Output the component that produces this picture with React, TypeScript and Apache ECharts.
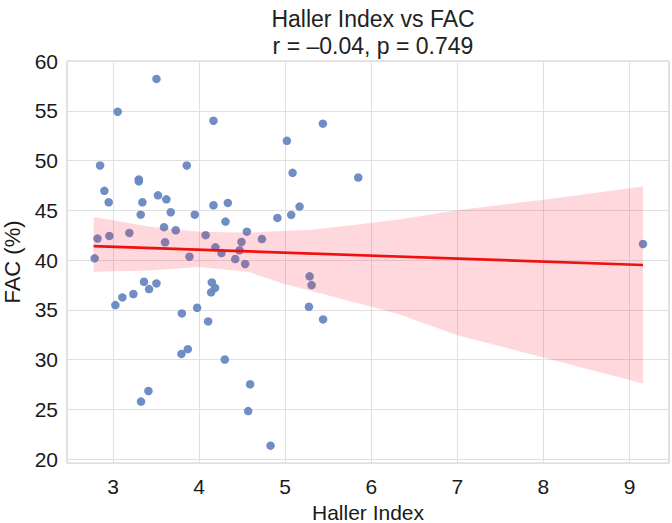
import React, { useEffect, useRef } from "react";
import * as echarts from "echarts";

// Haller index vs fractional area change (%), one point per patient
const hallerIndex = [
  3.505, 3.055, 4.167, 2.85, 3.857, 3.3, 3.3, 2.9, 2.95, 3.523, 3.62, 3.342, 4.167,
  3.322, 3.671, 3.95, 3.593, 3.729, 3.19, 2.958, 2.82, 3.605, 4.076, 2.787, 3.888,
  4.19, 3.028, 3.109, 3.237, 3.36, 3.419, 3.505, 3.8, 3.977, 4.105, 3.795, 3.869,
  3.326, 3.412, 4.148, 4.186, 4.14, 4.299, 4.593, 4.57, 4.83, 5.284, 5.307, 5.276,
  5.44, 4.26, 4.42, 4.535, 5.438, 5.02, 5.086, 5.849, 4.334, 5.167, 4.307, 4.91,
  5.07, 4.555, 4.73, 4.493, 4.47, 9.156,
];
const facPercent = [
  58.2, 54.9, 54.0, 49.5, 49.5, 48.1, 47.9, 46.95, 45.8, 46.5, 46.1, 45.8, 45.5,
  44.56, 44.8, 44.56, 43.3, 42.99, 42.72, 42.42, 42.15, 41.78, 42.5, 40.17, 40.33,
  41.27, 35.47, 36.24, 36.58, 37.81, 37.08, 37.65, 34.63, 35.2, 33.83, 30.56, 31.04,
  25.77, 26.84, 37.75, 37.2, 36.75, 30.0, 27.51, 24.82, 21.34, 38.36, 37.48, 35.3,
  34.03, 40.7, 40.1, 39.6, 53.7, 51.98, 48.76, 48.29, 45.74, 45.37, 43.86, 44.23,
  44.53, 42.85, 42.11, 41.81, 40.98, 41.61,
];

// Fitted regression line end points
const fitX = [2.775, 9.156];
const fitY = [41.4, 39.5];

// Confidence band edges
const bandUpperX = [2.775, 3.0, 3.43, 4.0, 4.6, 5.0, 5.3, 5.77, 6.34, 7.0, 8.0, 9.156];
const bandUpperY = [44.33, 44.0, 43.35, 42.85, 42.75, 42.95, 43.05, 43.5, 44.1, 45.0, 46.05, 47.4];
const bandLowerX = [2.775, 3.43, 4.0, 4.58, 4.97, 5.56, 6.0, 6.34, 7.0, 8.0, 9.156];
const bandLowerY = [38.82, 38.95, 39.3, 38.8, 37.65, 36.3, 35.3, 34.5, 32.45, 30.2, 27.6];

const titleText = "Haller Index vs FAC\nr = \u20130.04, p = 0.749";
const xName = "Haller Index";
const yName = "FAC (%)";

const FONT = "'Liberation Sans', Arial, Helvetica, sans-serif";

export default function App() {
  const ref = useRef<HTMLDivElement>(null);

  useEffect(() => {
    if (!ref.current) return;
    const chart = echarts.init(ref.current, undefined, { renderer: "svg" });

    const points = hallerIndex.map((x, i) => [x, facPercent[i]]);
    const fitLine = fitX.map((x, i) => [x, fitY[i]]);

    const option: any = {
      animation: false,
      backgroundColor: "#ffffff",
      textStyle: { fontFamily: FONT },
      title: {
        text: titleText,
        left: 368,
        top: 0,
        textAlign: "center",
        textStyle: {
          fontFamily: FONT,
          fontSize: 23,
          fontWeight: "normal",
          color: "#222222",
          lineHeight: 27,
        },
      },
      grid: {
        left: 67,
        right: 3,
        top: 61,
        bottom: 60,
        outerBoundsMode: "none",
        containLabel: false,
        show: true,
        borderColor: "#cfcfcf",
        borderWidth: 1.2,
        backgroundColor: "transparent",
      },
      xAxis: {
        type: "value",
        min: 2.466,
        max: 9.458,
        splitNumber: 7,
        name: xName,
        nameLocation: "middle",
        nameGap: 31,
        nameTextStyle: {
          fontFamily: FONT,
          fontSize: 21,
          lineHeight: 21,
          color: "#1a1a1a",
        },
        axisLine: { show: false },
        axisTick: { show: false },
        axisLabel: {
          showMinLabel: false,
          showMaxLabel: false,
          margin: 13,
          fontFamily: FONT,
          fontSize: 21,
          color: "#1a1a1a",
        },
        splitLine: { show: true, lineStyle: { color: "#e0e0e0", width: 1 } },
      },
      yAxis: {
        type: "value",
        min: 19.6,
        max: 60,
        splitNumber: 8,
        name: yName,
        nameLocation: "middle",
        nameGap: 40,
        nameRotate: 90,
        nameTextStyle: { fontFamily: FONT, fontSize: 22, color: "#1a1a1a" },
        axisLine: { show: false },
        axisTick: { show: false },
        axisLabel: {
          showMinLabel: false,
          margin: 9,
          fontFamily: FONT,
          fontSize: 21,
          color: "#1a1a1a",
        },
        splitLine: { show: true, lineStyle: { color: "#e0e0e0", width: 1 } },
      },
      series: [
        {
          type: "scatter",
          data: points,
          symbolSize: 8.5,
          itemStyle: { color: "#6688c2", opacity: 0.95 },
          z: 2,
        },
        {
          type: "custom",
          data: [[bandUpperX[0], bandUpperY[0]]],
          z: 3,
          silent: true,
          renderItem: (_params: any, api: any) => {
            const pts: number[][] = [];
            for (let i = 0; i < bandUpperX.length; i++) {
              pts.push(api.coord([bandUpperX[i], bandUpperY[i]]));
            }
            for (let i = bandLowerX.length - 1; i >= 0; i--) {
              pts.push(api.coord([bandLowerX[i], bandLowerY[i]]));
            }
            return {
              type: "polygon",
              shape: { points: pts },
              style: { fill: "rgba(248, 40, 60, 0.18)", stroke: "none" },
            };
          },
        },
        {
          type: "line",
          data: fitLine,
          showSymbol: false,
          lineStyle: { color: "#f01010", width: 2.6 },
          z: 4,
        },
      ],
    };

    chart.setOption(option);
    return () => chart.dispose();
  }, []);

  return (
    <div
      ref={ref}
      style={{ position: "fixed", left: 0, top: 0, width: 672, height: 523 }}
    />
  );
}
